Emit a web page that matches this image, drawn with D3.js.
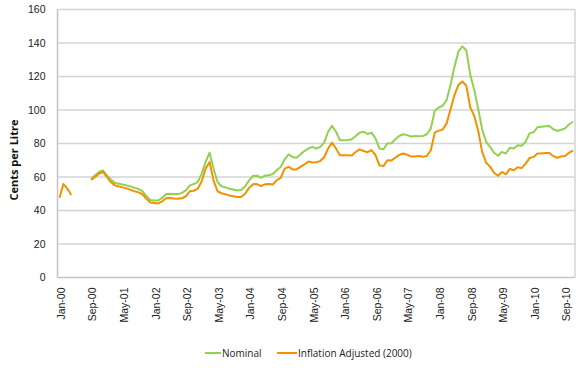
<!DOCTYPE html>
<html>
<head>
<meta charset="utf-8">
<script src="https://d3js.org/d3.v7.min.js"></script>
<style>
    body { margin: 0; background: #fff; }
    svg { display: block; font-family: "Open Sans", sans-serif; }
    .grid line { stroke: #d4d4d4; stroke-width: 1.5; }
    .tick text { fill: #222; }
</style>
</head>
<body>
<div id="chart"></div>
<script>
// monthly series, Jan-00 .. Nov-10 (cents per litre)
let startMonth = new Date(2000, 0, 1);
let endMonth = new Date(2010, 11, 1);

let nominal = [
    null, null, null, null, null, null, null, null,
    59, 61, 63, 64,
    61, 58.5, 56.5, 56, 55.5, 55, 54.3, 53.5, 52.8, 51.5, 48.5, 46.3,
    46, 46, 47.5, 49.8, 50, 49.8, 49.8, 50.5, 52, 55, 55.8, 57,
    62, 69, 74.5, 65, 57, 54.5, 53.8, 53, 52.5, 52, 52.3, 54.5,
    58, 60.6, 60.8, 59.5, 60.8, 61, 61.8, 64, 66, 70.5, 73.5, 72,
    71.5, 73.5, 75.5, 77, 78, 77, 78, 80.5, 87, 90.5, 87, 82,
    82, 82.1, 82.5, 84.5, 86.5, 87, 85.7, 86.5, 83, 77, 76.5, 80,
    80.1, 82.5, 84.5, 85.5, 85, 84.2, 84.5, 84.3, 84.5, 85.5, 89, 99.5,
    101.5, 102.5, 106, 115, 126, 135, 138, 135.5, 121, 112, 100.5, 88.5,
    81, 78, 74.5, 72.7, 75, 74, 77.5, 77, 79, 78.7, 81, 86.2,
    86.7, 89.7, 90, 90.3, 90.5, 88.5, 87.5, 88.2, 89, 91.5, 93
];

let inflationAdjusted = [
    47.6, 55.8, 53, 49.3, null, null, null, null,
    58.3, 60, 62, 63,
    60, 57, 55, 54.3, 53.8, 53.2, 52.3, 51.5, 50.8, 49.7, 47, 44.8,
    44.5, 44.2, 45.5, 47.3, 47.5, 47.2, 47, 47.3, 48.5, 51.5, 51.8, 53,
    57.5, 65, 69, 58, 51.5, 50.3, 49.7, 49, 48.5, 48, 48, 50,
    53.5, 55.6, 55.8, 54.6, 55.6, 55.8, 55.5, 58, 59.5, 65, 66, 64.5,
    64.5, 66, 67.5, 69.2, 68.7, 68.8, 69.5, 71.8, 77, 80.5, 77, 73,
    73, 73, 72.8, 75, 76.5, 75.5, 74.8, 76, 73, 67, 66.5, 70,
    69.8, 71.5, 73.2, 74, 73.3, 72.3, 72.3, 72.5, 72.1, 72.5, 76, 86.5,
    87.7, 88.3, 92, 100.5, 109, 115, 117, 114.5, 101.5, 96.5, 87.5, 75,
    68.5, 66.2, 62.5, 60.8, 63, 61.6, 64.8, 64, 65.8, 65.3, 68, 71.3,
    72, 74, 74, 74.3, 74.3, 72.5, 71.5, 72.2, 72.5, 74.5, 75.7
];

let tickLabels = ["Jan-00", "Sep-00", "May-01", "Jan-02", "Sep-02", "May-03", "Jan-04", "Sep-04",
    "May-05", "Jan-06", "Sep-06", "May-07", "Jan-08", "Sep-08", "May-09", "Jan-10", "Sep-10"];
let yTicks = [0, 20, 40, 60, 80, 100, 120, 140, 160];

let seriesNames = ["Nominal", "Inflation Adjusted (2000)"];
let seriesColors = ["#92d050", "#f39200"];

let fmt = d3.timeFormat("%b-%y");
let months = d3.timeMonth.range(startMonth, endMonth).map(fmt);

let width = 580, height = 368;
let margin = {top: 9.5, left: 57.5, right: 5, bottom: 90.5};
let plotW = width - margin.left - margin.right;
let plotH = height - margin.top - margin.bottom;

let svg = d3.select("#chart").append("svg")
    .attr("width", width)
    .attr("height", height);

let x = d3.scaleBand()
    .domain(months)
    .range([margin.left, margin.left + plotW]);

let y = d3.scaleLinear()
    .domain([0, 160])
    .range([margin.top + plotH, margin.top]);

// horizontal gridlines
svg.append("g")
    .attr("class", "grid")
    .selectAll("line")
    .data(yTicks)
    .enter().append("line")
    .attr("x1", margin.left)
    .attr("x2", margin.left + plotW)
    .attr("y1", d => y(d))
    .attr("y2", d => y(d))
    .style("stroke", d => d == 0 ? "#c4c4c4" : null);

// plot frame (left and right edges)
svg.append("line")
    .attr("x1", margin.left).attr("x2", margin.left)
    .attr("y1", y(160)).attr("y2", y(0))
    .style("stroke", "#c4c4c4").style("stroke-width", 1.5);
svg.append("line")
    .attr("x1", margin.left + plotW).attr("x2", margin.left + plotW)
    .attr("y1", y(160)).attr("y2", y(0))
    .style("stroke", "#d4d4d4").style("stroke-width", 1.5);

// y axis labels
let yAxis = svg.append("g")
    .attr("transform", "translate(" + margin.left + ",0)")
    .call(d3.axisLeft(y).tickValues(yTicks).tickSize(0).tickPadding(12));
yAxis.select(".domain").remove();
yAxis.selectAll("text").style("font-size", "10.5px");

// x axis labels, rotated
let xAxis = svg.append("g")
    .attr("transform", "translate(0," + y(0) + ")")
    .call(d3.axisBottom(x).tickValues(tickLabels).tickSize(0));
xAxis.select(".domain").remove();
xAxis.selectAll("text")
    .style("font-size", "10.5px")
    .attr("text-anchor", "end")
    .attr("transform", "rotate(-90)")
    .attr("x", -10)
    .attr("y", 0)
    .attr("dy", "0.5em");

// axis title
svg.append("text")
    .attr("transform", "translate(18,160) rotate(-90)")
    .attr("text-anchor", "middle")
    .style("font-size", "11px")
    .style("font-weight", "bold")
    .style("fill", "#111")
    .text("Cents per Litre");

// lines
let series = [nominal, inflationAdjusted];
let line = d3.line()
    .defined(d => d != null)
    .x((d, i) => x(months[i]) + x.bandwidth() / 2)
    .y(d => y(d));

series.forEach(function (values, k) {
    svg.append("path")
        .datum(values)
        .attr("d", line)
        .style("fill", "none")
        .style("stroke", seriesColors[k])
        .style("stroke-width", 2)
        .style("stroke-linejoin", "round");
});

// legend
let legendItems = [{x: 205, len: 16}, {x: 277, len: 20}];
let legend = svg.append("g").attr("transform", "translate(0,353)");
legendItems.forEach(function (item, k) {
    legend.append("line")
        .attr("x1", item.x).attr("x2", item.x + item.len)
        .attr("y1", 0).attr("y2", 0)
        .style("stroke", seriesColors[k])
        .style("stroke-width", 2);
    legend.append("text")
        .attr("x", item.x + item.len + 1)
        .attr("y", 0)
        .attr("dy", "0.35em")
        .style("font-size", "10px")
        .style("fill", "#222")
        .text(seriesNames[k]);
});
</script>
</body>
</html>
